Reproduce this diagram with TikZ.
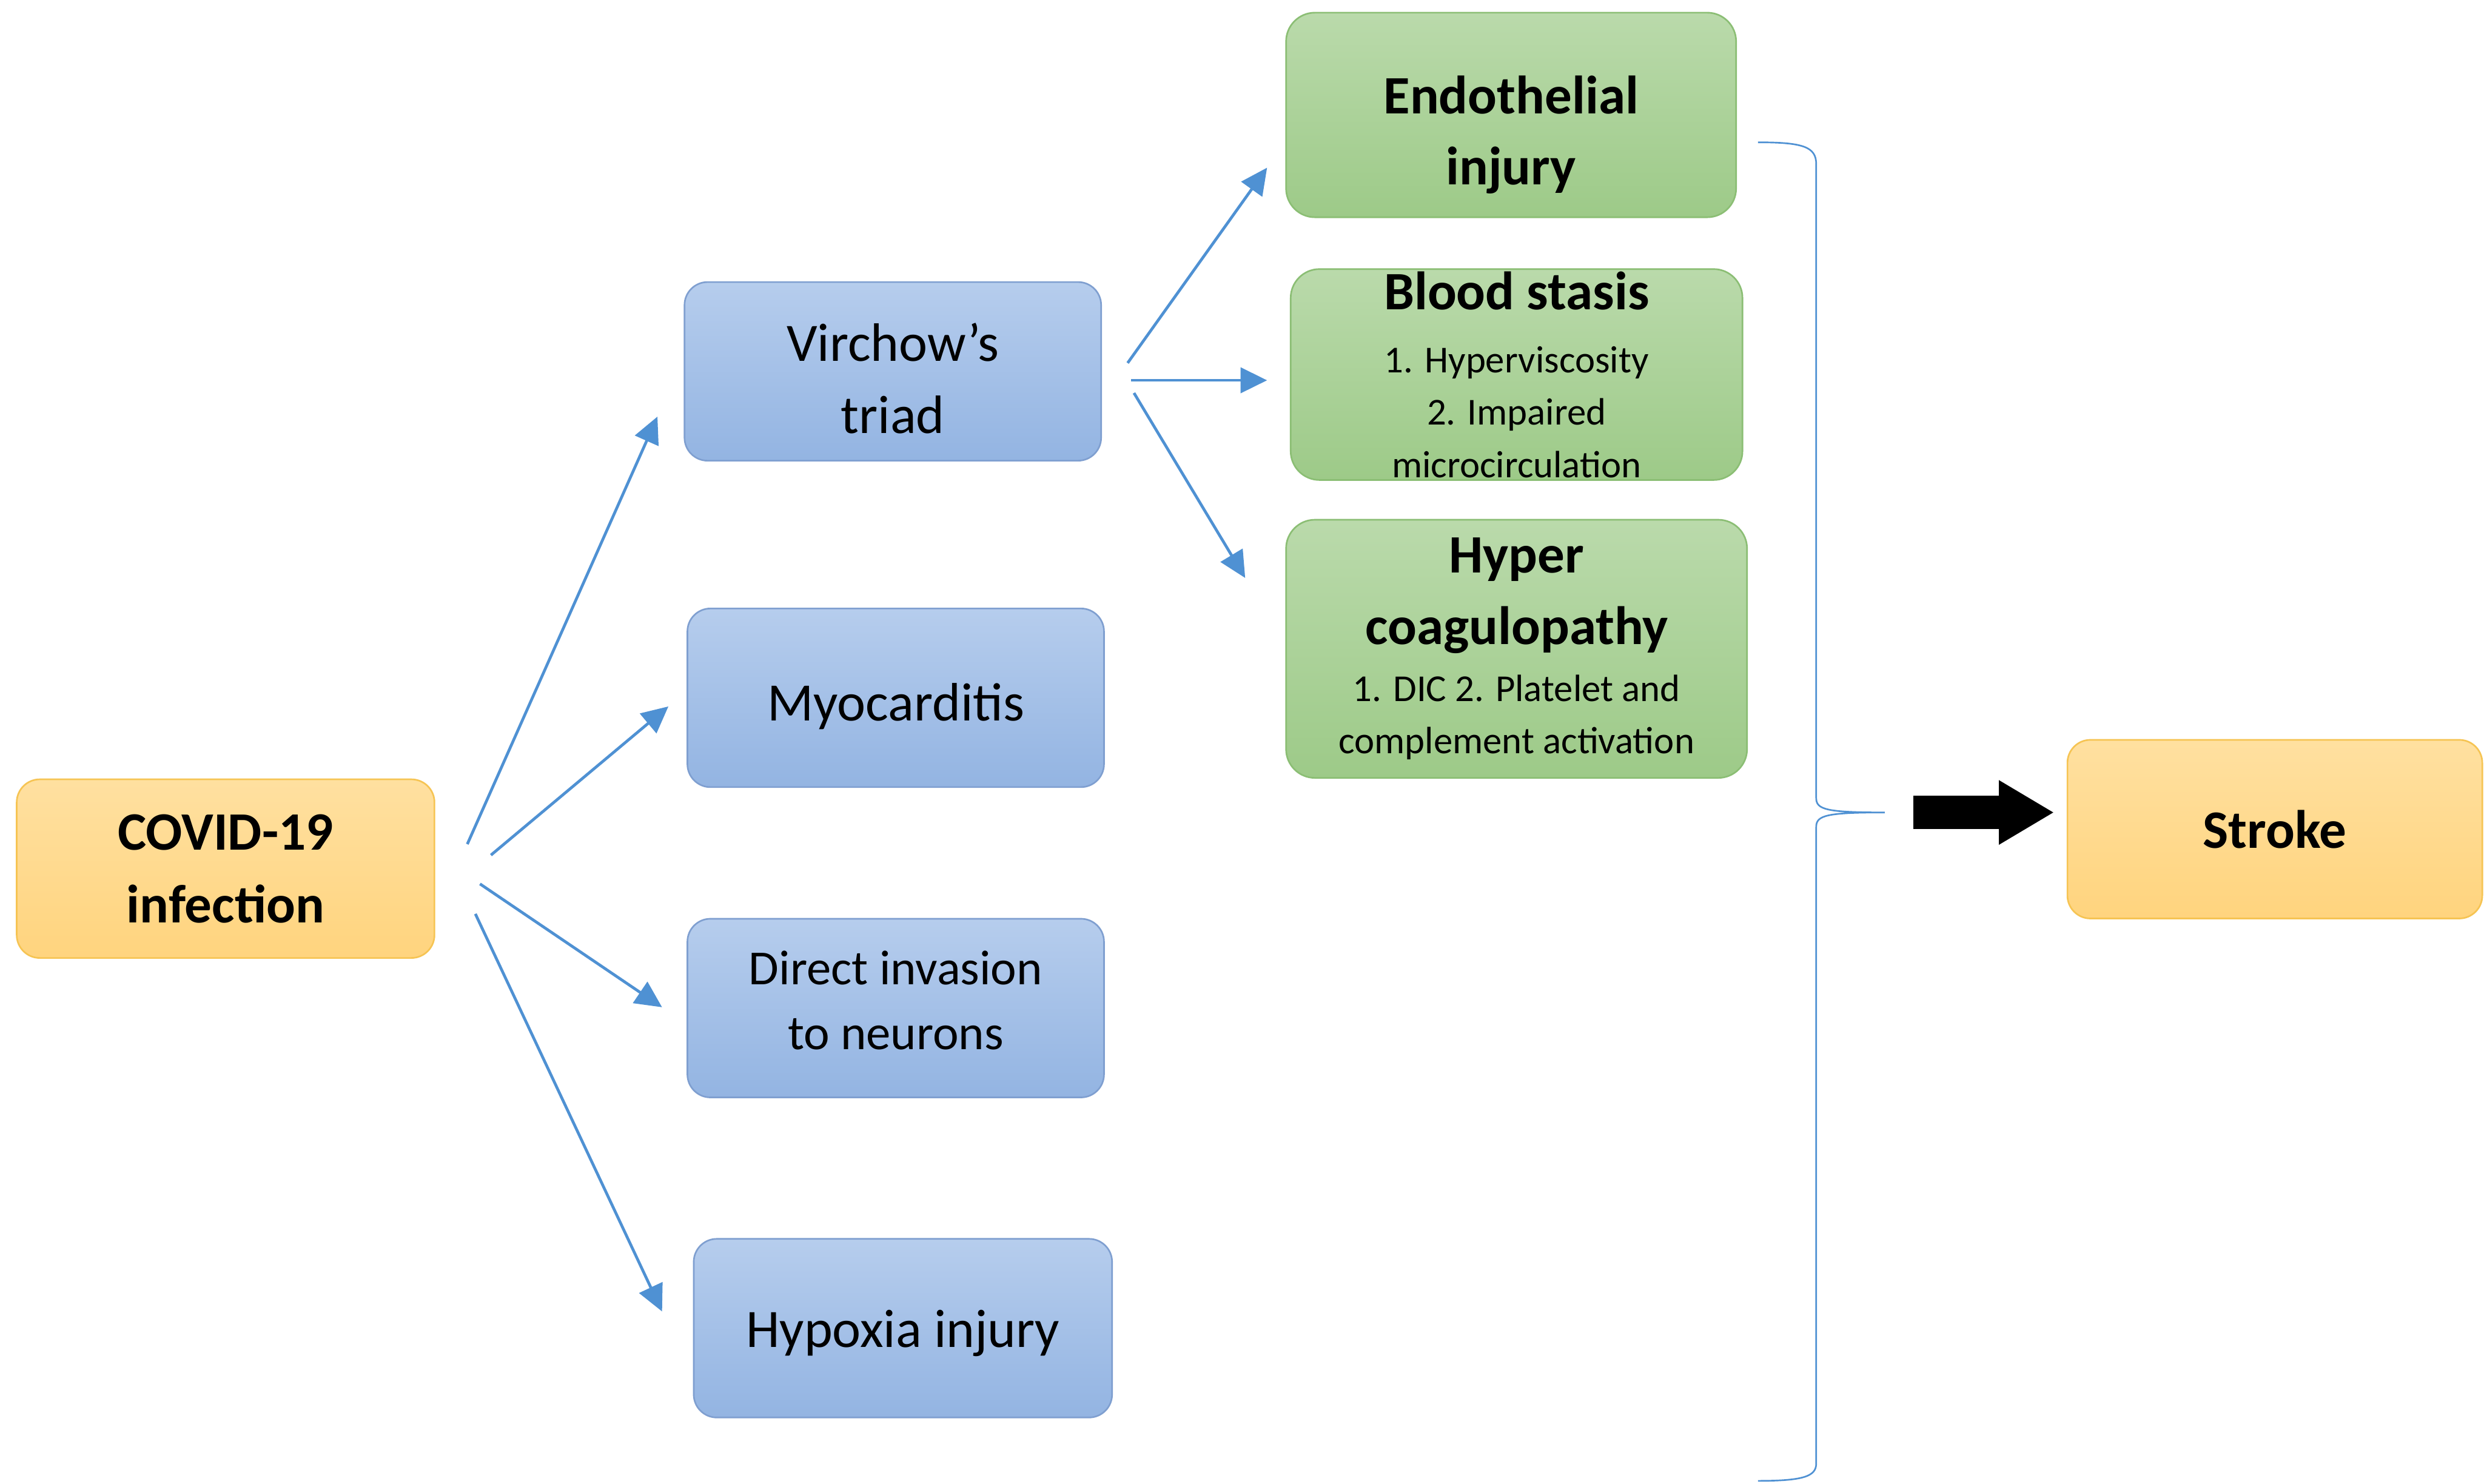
\documentclass[tikz,border=0pt]{standalone}
\usepackage{fontspec}
\setmainfont{Carlito}
\usetikzlibrary{arrows.meta,positioning}

\definecolor{orangetop}{HTML}{FFE0A0}
\definecolor{orangebot}{HTML}{FFD47E}
\definecolor{orangeline}{HTML}{F6C453}
\definecolor{bluetop}{HTML}{B6CDED}
\definecolor{bluebot}{HTML}{93B4E2}
\definecolor{blueline}{HTML}{7F9FD0}
\definecolor{greentop}{HTML}{BADAAB}
\definecolor{greenbot}{HTML}{9DCA88}
\definecolor{greenline}{HTML}{8BBE74}
\definecolor{arrowblue}{HTML}{4F91D3}

\newcommand{\bigtxt}{\fontsize{26.7}{35.8}\selectfont}
\newcommand{\midtxt}{\fontsize{24.2}{32.1}\selectfont}
\newcommand{\greentxt}{\fontsize{26.7}{25.8}\selectfont}
\newcommand{\smalltxt}{\mdseries\fontsize{18.8}{25.8}\selectfont}

\begin{document}
\begin{tikzpicture}[
  box/.style={rectangle, rounded corners=0.4cm, line width=0.8pt, align=center, inner sep=0pt, text=black},
  orangebox/.style={box, draw=orangeline, top color=orangetop, bottom color=orangebot, minimum width=7.25cm, minimum height=3.1cm, font=\bigtxt\bfseries},
  bluebox/.style={box, draw=blueline, top color=bluetop, bottom color=bluebot, minimum width=7.23cm, minimum height=3.1cm, font=\bigtxt},
  greenbox/.style={box, draw=greenline, top color=greentop, bottom color=greenbot, rounded corners=0.5cm, font=\bfseries\greentxt},
  flow/.style={draw=arrowblue, line width=1.4pt, -{Triangle[length=0.46cm,width=0.44cm]}},
  brace/.style={draw=arrowblue, line width=0.8pt},
  bigarrow/.style={draw=black, line width=0.58cm, -{Triangle[length=0.96cm,width=1.05cm]}}
]
\path[use as bounding box, fill=white] (0,0) rectangle (43.11,-25.75);

% boxes
\node[orangebox] (covid) at (3.915,-15.075) {COVID-19\\infection};
\node[bluebox, text height=2.16cm] (virchow) at (15.495,-6.445) {Virchow’s\\triad};
\node[bluebox, text height=0.94cm] (myo) at (15.545,-12.11) {Myocarditis};
\node[bluebox, font=\midtxt, text depth=0.28cm] (direct) at (15.545,-17.495) {Direct invasion\\to neurons};
\node[bluebox, minimum width=7.26cm, text height=0.82cm] (hypoxia) at (15.67,-23.05) {Hypoxia injury};
\node[greenbox, minimum width=7.81cm, minimum height=3.55cm, text height=2.58cm] (endo) at (26.225,-1.995) {Endothelial\\[9.4pt]injury};
\node[greenbox, minimum width=7.84cm, minimum height=3.66cm] (stasis) at (26.32,-6.50)
  {Blood stasis\\[5.5pt]{\smalltxt 1. Hyperviscosity}\\{\smalltxt 2. Impaired}\\{\smalltxt microcirculation}};
\node[greenbox, minimum width=8.0cm, minimum height=4.48cm] (hyper) at (26.32,-11.26)
  {Hyper\\[9.4pt]coagulopathy\\[2.3pt]{\smalltxt 1. DIC 2. Platelet and}\\{\smalltxt complement activation}};
\node[orangebox, minimum width=7.2cm] (stroke) at (39.48,-14.39) {Stroke};

% arrow ends
\coordinate (c1) at (8.11,-14.65);   \coordinate (v1) at (11.41,-7.23);
\coordinate (c2) at (8.52,-14.84);   \coordinate (m1) at (11.60,-12.26);
\coordinate (c3) at (8.33,-15.34);   \coordinate (d1) at (11.49,-17.48);
\coordinate (c4) at (8.25,-15.86);   \coordinate (h1) at (11.49,-22.76);
\coordinate (v2) at (19.57,-6.30);   \coordinate (e1) at (21.99,-2.91);
\coordinate (v3) at (19.63,-6.60);   \coordinate (s1) at (21.99,-6.60);
\coordinate (v4) at (19.68,-6.82);   \coordinate (y1) at (21.61,-10.03);

\draw[flow] (c1) -- (v1);
\draw[flow] (c2) -- (m1);
\draw[flow] (c3) -- (d1);
\draw[flow] (c4) -- (h1);
\draw[flow] (v2) -- (e1);
\draw[flow] (v3) -- (s1);
\draw[flow] (v4) -- (y1);

% brace
\coordinate (brtop) at (30.51,-2.47);
\coordinate (brtip) at (32.71,-14.10);
\coordinate (brbot) at (30.51,-25.70);
\draw[brace] (brtop) .. controls (31.30,-2.47) and (31.52,-2.55) .. (31.52,-2.85)
  -- (31.52,-13.85) .. controls (31.52,-14.05) and (31.70,-14.10) .. (brtip)
  .. controls (31.70,-14.10) and (31.52,-14.15) .. (31.52,-14.35)
  -- (31.52,-25.40) .. controls (31.52,-25.62) and (31.30,-25.70) .. (brbot);

% thick arrow to stroke
\coordinate (bigtail) at (33.21,-14.10);
\coordinate (bigtip) at (35.65,-14.10);
\draw[bigarrow] (bigtail) -- (bigtip);
\end{tikzpicture}
\end{document}
